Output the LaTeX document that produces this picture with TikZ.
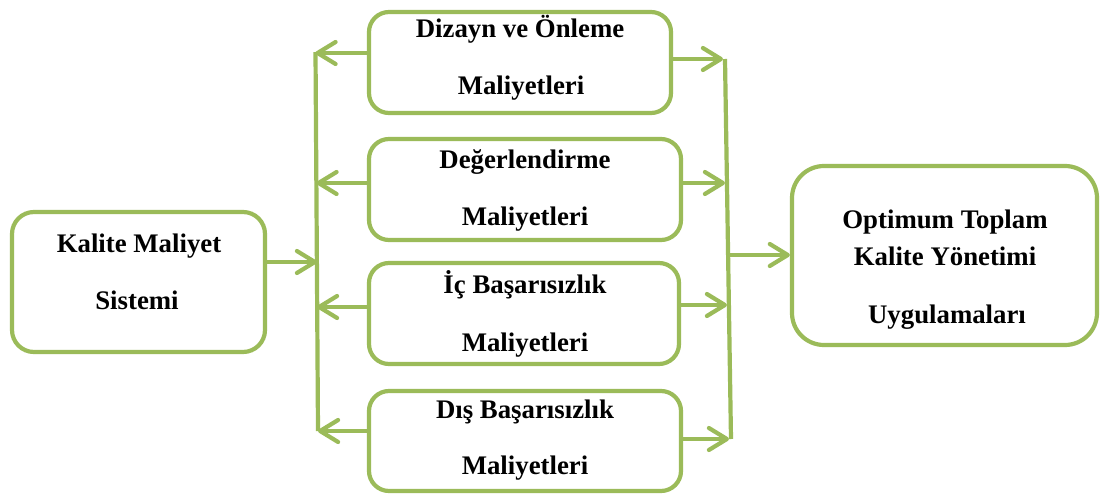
\documentclass[tikz,border=0pt]{standalone}
\usepackage{fontspec}
\setmainfont{Liberation Serif}
\usetikzlibrary{arrows.meta}
\definecolor{olive}{HTML}{9BBB59}
\begin{document}
\begin{tikzpicture}[x=1pt,y=-1pt,
  box/.style={draw=olive, line width=4.2pt, rounded corners=20pt, inner sep=0pt},
  wire/.style={draw=olive, line width=4.2pt},
  arr/.style={wire, -{Straight Barb[length=18pt,width=22pt,line cap=round,line join=round]}},
  lbl/.style={anchor=base, inner sep=0pt, font=\fontsize{26.8pt}{30pt}\selectfont\bfseries}]
\useasboundingbox (0,0) rectangle (1106,495);

% boxes
\node[box, rounded corners=22pt, minimum width=253pt, minimum height=140pt] (src) at (138.5,282) {};
\node[box, minimum width=302pt, minimum height=101pt] (b1) at (520,62.5) {};
\node[box, minimum width=312pt, minimum height=101pt] (b2) at (525,189.5) {};
\node[box, minimum width=310pt, minimum height=101pt] (b3) at (524,313.5) {};
\node[box, minimum width=312pt, minimum height=100pt] (b4) at (525,441) {};
\node[box, rounded corners=32pt, minimum width=305pt, minimum height=179pt] (dst) at (944.5,255.5) {};

% texts
\node[lbl] (s1) at (139,252) {Kalite Maliyet};
\node[lbl] (s2) at (137,309) {Sistemi};
\node[lbl] (t1a) at (520,38) {Dizayn ve Önleme};
\node[lbl] (t1b) at (521,94) {Maliyetleri};
\node[lbl] (t2a) at (525,168) {Değerlendirme};
\node[lbl] (t2b) at (525,225) {Maliyetleri};
\node[lbl] (t3a) at (525,293) {İç Başarısızlık};
\node[lbl] (t3b) at (525,351) {Maliyetleri};
\node[lbl] (t4a) at (525,418) {Dış Başarısızlık};
\node[lbl] (t4b) at (525,474) {Maliyetleri};
\node[lbl] (d1) at (945,228) {Optimum Toplam};
\node[lbl] (d2) at (945,265) {Kalite Yönetimi};
\node[lbl] (d3) at (947,323) {Uygulamaları};

% collecting bars
\coordinate (lt) at (315.5,52);
\coordinate (lb) at (318,431);
\coordinate (rt) at (725,59);
\coordinate (rb) at (731,439);
\draw[wire] (lt) -- (lb);
\draw[wire] (rt) -- (rb);

% junction points on the bars
\coordinate (l0) at (317,262);
\coordinate (l1) at (315.5,53);
\coordinate (l2) at (316.5,183);
\coordinate (l3) at (317,307);
\coordinate (l4) at (318,431);
\coordinate (r1) at (723,59);
\coordinate (r2) at (725,183);
\coordinate (r3) at (727,305);
\coordinate (r4) at (729,439);
\coordinate (r0) at (728,255);

% arrows
\draw[arr] (src.east |- l0) -- (l0);
\draw[arr] (b1.west |- l1) -- (l1);
\draw[arr] (b2.west |- l2) -- (l2);
\draw[arr] (b3.west |- l3) -- (l3);
\draw[arr] (b4.west |- l4) -- (l4);
\draw[arr] (b1.east |- r1) -- (r1);
\draw[arr] (b2.east |- r2) -- (r2);
\draw[arr] (b3.east |- r3) -- (r3);
\draw[arr] (b4.east |- r4) -- (r4);
\draw[arr] (r0) -- (dst.west |- r0);
\end{tikzpicture}
\end{document}
